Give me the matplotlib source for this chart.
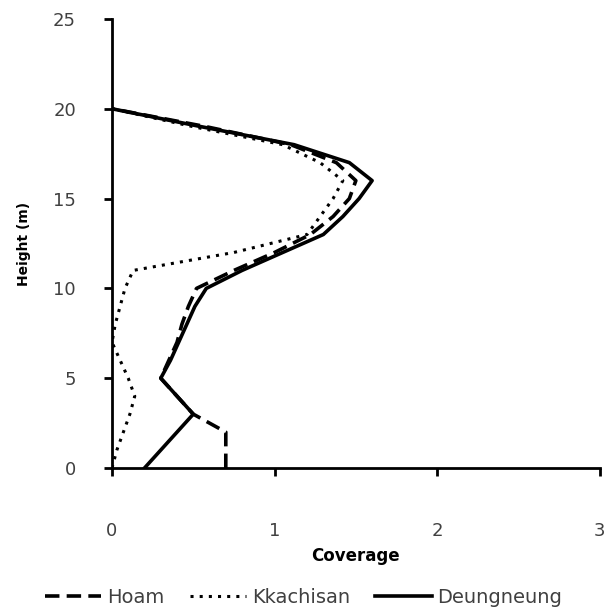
import matplotlib
matplotlib.use("Agg")
import matplotlib.pyplot as plt

# height levels (m) and crown coverage per site
height = [0, 1, 2, 3, 4, 5, 6, 7, 8, 9, 10, 11, 12, 13, 14, 15, 16, 17, 18, 19, 20]
hoam = [0.70, 0.70, 0.70, 0.50, 0.40, 0.30, 0.35, 0.40, 0.43, 0.47, 0.52,
        0.75, 1.00, 1.22, 1.36, 1.46, 1.50, 1.38, 1.10, 0.58, 0.0]
kkachisan = [0.0, 0.03, 0.07, 0.11, 0.14, 0.10, 0.05, 0.0, 0.02, 0.05, 0.08,
             0.13, 0.75, 1.20, 1.28, 1.36, 1.42, 1.28, 1.05, 0.50, 0.0]
deungneung = [0.20, 0.30, 0.40, 0.50, 0.40, 0.30, 0.36, 0.41, 0.46, 0.51, 0.58,
              0.80, 1.05, 1.30, 1.42, 1.52, 1.60, 1.46, 1.12, 0.55, 0.0]

plt.rcParams['font.family'] = ['DejaVu Sans']

fig = plt.figure(figsize=(6.07, 6.11), dpi=100)
ax = fig.add_axes([0.1845, 0.234, 0.8035, 0.735])

ax.plot(hoam, height, color='black', lw=2.6, ls=(0, (4, 2)), label='Hoam')
ax.plot(kkachisan, height, color='black', lw=2.2, ls=(0, (1, 2)), label='Kkachisan')
ax.plot(deungneung, height, color='black', lw=2.6, ls='-', label='Deungneung')

ax.set_xlim(0, 3)
ax.set_ylim(0, 25)
ax.set_xticks([0, 1, 2, 3])
ax.set_yticks([0, 5, 10, 15, 20, 25])
for s in ['top', 'right']:
    ax.spines[s].set_visible(False)
for s in ['left', 'bottom']:
    ax.spines[s].set_linewidth(2)
ax.tick_params(axis='both', direction='out', length=6, width=2,
               labelsize=13, labelcolor='#404040')
ax.tick_params(axis='y', pad=20)
ax.tick_params(axis='x', pad=33)

ax.set_xlabel('Coverage', fontsize=12, fontweight='bold', labelpad=5)
ax.set_ylabel('Height (m)', fontsize=10, fontweight='bold', labelpad=16)

fig.legend(loc='center', bbox_to_anchor=(0.5, 0.022), ncol=3, frameon=False,
           fontsize=14, handlelength=2.9, handletextpad=0.3, columnspacing=1.3,
           labelcolor='#404040')

fig.savefig('out.png', dpi=100)
